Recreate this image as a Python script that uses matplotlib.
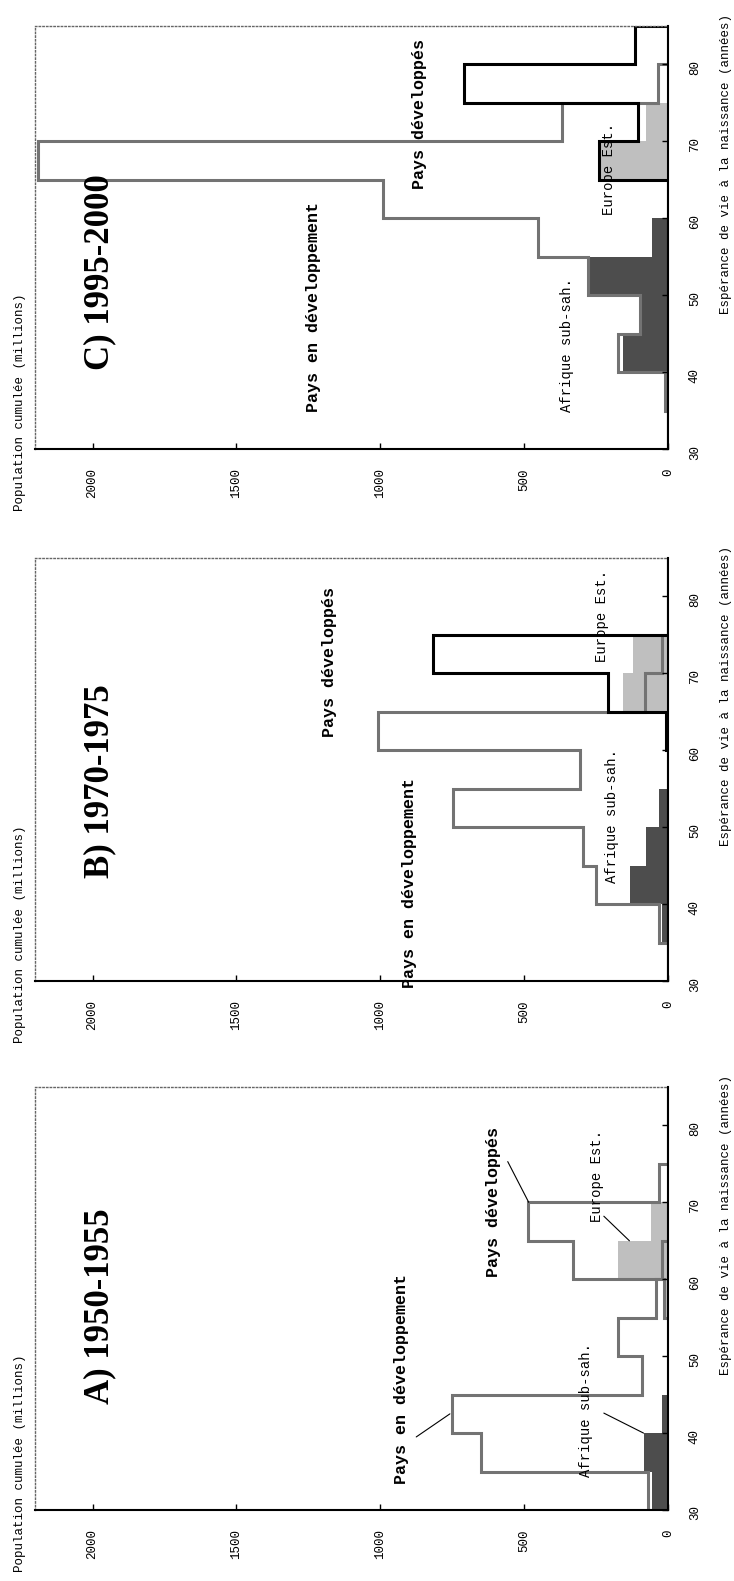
import matplotlib
matplotlib.use("Agg")
import matplotlib.pyplot as plt

# classes d'espérance de vie (années)
edges = [30, 35, 40, 45, 50, 55, 60, 65, 70, 75, 80, 85]

periods = ["A) 1950-1955", "B) 1970-1975", "C) 1995-2000"]

# population cumulée (millions) par classe de 5 ans
dev_1950 = [70, 650, 750, 92, 175, 40, 20, 0, 0, 0, 0]
ind_1950 = [0, 0, 0, 0, 0, 15, 331, 488, 30, 0, 0]
afr_1950 = [55, 84, 22, 0, 0, 0, 0, 0, 0, 0, 0]
est_1950 = [0, 0, 0, 0, 0, 15, 173, 60, 0, 0, 0]

dev_1970 = [0, 30, 250, 294, 746, 307, 1007, 80, 20, 0, 0]
ind_1970 = [0, 0, 0, 0, 0, 0, 8, 210, 816, 0, 0]
afr_1970 = [0, 21, 131, 77, 33, 0, 0, 0, 0, 0, 0]
est_1970 = [0, 0, 0, 0, 0, 0, 0, 155, 120, 0, 0]

dev_1995 = [0, 12, 175, 98, 278, 452, 991, 2188, 367, 35, 0]
ind_1995 = [0, 0, 0, 0, 0, 0, 0, 240, 103, 710, 115]
afr_1995 = [0, 12, 155, 98, 273, 54, 0, 0, 0, 0, 0]
est_1995 = [0, 0, 0, 0, 0, 0, 0, 237, 75, 0, 0]

pop_ticks = [0, 500, 1000, 1500, 2000]
life_ticks = [30, 40, 50, 60, 70, 80]

lab_dev = "Pays en développement"
lab_ind = "Pays développés"
lab_afr = "Afrique sub-sah."
lab_est = "Europe Est."

# positions des textes (population, espérance de vie)
layout = [
    {"title": (1976, 56.5), "dev": (925, 47.0), "ind": (606, 70.0),
     "est": (248, 73.5), "afr": (285, 43.0),
     "leaders": [((875, 39.5), (758, 42.5)), ((557, 75.3), (484, 70.0)),
                 ((223, 68.2), (134, 65.0)), ((223, 42.6), (85, 40.0))]},
    {"title": (1976, 56.0), "dev": (898, 42.8), "ind": (1176, 71.5),
     "est": (229, 77.5), "afr": (196, 51.4), "leaders": []},
    {"title": (1976, 53.0), "dev": (1233, 48.4), "ind": (865, 73.5),
     "est": (204, 66.4), "afr": (351, 43.5), "leaders": []},
]

series = [
    (dev_1950, ind_1950, afr_1950, est_1950),
    (dev_1970, ind_1970, afr_1970, est_1970),
    (dev_1995, ind_1995, afr_1995, est_1995),
]
ind_colors = ["0.45", "black", "black"]

plt.rcParams["font.family"] = ["Liberation Mono", "DejaVu Sans"]

fig = plt.figure(figsize=(7.34, 15.81), dpi=100)
bottoms = [1 - 1510 / 1581, 1 - 981 / 1581, 1 - 449 / 1581]


def draw_panel(ax, data, lay, title, ind_color):
    dev, ind, afr, est = data
    ax.stairs(afr, edges, orientation="horizontal", baseline=0, fill=True,
              color="0.3", lw=0)
    ax.stairs(est, edges, orientation="horizontal", baseline=0, fill=True,
              color="0.75", lw=0)
    ax.stairs(dev, edges, orientation="horizontal", baseline=0,
              color="0.45", lw=2.2)
    ax.stairs(ind, edges, orientation="horizontal", baseline=0,
              color=ind_color, lw=2.2)

    ax.set_xlim(2200, 0)
    ax.set_ylim(30, 85)
    ax.set_xticks(pop_ticks)
    ax.set_yticks(life_ticks)
    ax.yaxis.tick_right()
    ax.tick_params(axis="both", direction="in", length=4, width=1,
                   labelsize=9)
    ax.tick_params(axis="x", pad=14, labelrotation=90)
    ax.tick_params(axis="y", pad=15, labelrotation=90)
    for side in ["left", "top"]:
        ax.spines[side].set_linestyle(":")
        ax.spines[side].set_color("0.4")
        ax.spines[side].set_linewidth(1)
    for side in ["bottom", "right"]:
        ax.spines[side].set_color("black")
        ax.spines[side].set_linewidth(1.5)

    ax.text(*lay["title"], title, rotation=90, ha="center", va="center",
            family="Liberation Serif", fontweight="bold", fontsize=25)
    ax.text(*lay["dev"], lab_dev, rotation=90, ha="center", va="center",
            fontweight="bold", fontsize=12)
    ax.text(*lay["ind"], lab_ind, rotation=90, ha="center", va="center",
            fontweight="bold", fontsize=12)
    ax.text(*lay["est"], lab_est, rotation=90, ha="center", va="center",
            fontsize=10)
    ax.text(*lay["afr"], lab_afr, rotation=90, ha="center", va="center",
            fontsize=10)
    for start, end in lay["leaders"]:
        ax.annotate("", xy=end, xytext=start,
                    arrowprops=dict(arrowstyle="-", color="black", lw=0.8,
                                    shrinkA=0, shrinkB=0))

    ax.text(-0.024, -0.147, "Population cumulée (millions)", rotation=90,
            ha="center", va="bottom", fontsize=9, transform=ax.transAxes)
    ax.text(1.0916, 1.028, "Espérance de vie à la naissance (années)",
            rotation=90, ha="center", va="top", fontsize=9,
            transform=ax.transAxes)


for i in range(3):
    ax = fig.add_axes([35 / 734, bottoms[i], 633 / 734, 423 / 1581])
    draw_panel(ax, series[i], layout[i], periods[i], ind_colors[i])

fig.savefig("out.png", dpi=100)
